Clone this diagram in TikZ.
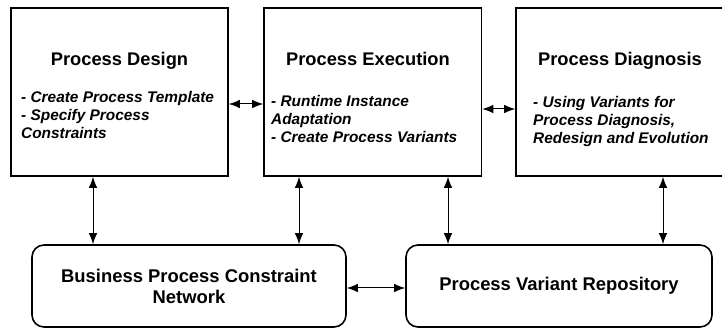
\documentclass[tikz,border=0pt]{standalone}
\usepackage{fontspec}
\setmainfont{Liberation Sans}
\usepackage{tikz}
\usetikzlibrary{arrows.meta}

\tikzset{
    procbox/.style={draw, line width=1.6pt, minimum height=168pt, inner sep=0pt},
    repbox/.style={draw, line width=1.6pt, rounded corners=12pt, minimum height=82pt,
        align=center, font=\fontsize{18.4}{21}\selectfont\bfseries},
    boxtitle/.style={anchor=base, inner sep=0pt, font=\fontsize{18.3}{21}\selectfont\bfseries},
    boxbody/.style={anchor=base west, inner sep=0pt, align=left,
        font=\fontsize{15.4}{18}\selectfont\bfseries\itshape},
    link/.style={<->, line width=1pt}
}

\begin{document}
\begin{tikzpicture}[x=1pt, y=-1pt, >={Latex[length=11pt,width=8.5pt]}]
    \useasboundingbox (0,0) rectangle (722,328);
    % the three phases
    \node[procbox, minimum width=217pt] (design) at (119.5,92) {};
    \node[procbox, minimum width=217.5pt] (execution) at (372.75,92) {};
    \node[procbox, minimum width=208pt] (diagnosis) at (620,92) {};
    \node[boxtitle] (designtitle) at (119.5,66) {Process Design};
    \node[boxtitle] (executiontitle) at (368,66) {Process Execution};
    \node[boxtitle] (diagnosistitle) at (620,66) {Process Diagnosis};
    % base of a body is its last line
    \node[boxbody] (designbody) at (21,139) {- Create Process Template\\- Specify Process\\Constraints};
    \node[boxbody] (executionbody) at (271,142.5) {- Runtime Instance\\Adaptation\\- Create Process Variants};
    \node[boxbody] (diagnosisbody) at (533,144) {- Using Variants for\\Process Diagnosis,\\Redesign and Evolution};
    % the two stores
    \node[repbox, minimum width=314pt] (network) at (189,286) {Business Process Constraint\\Network};
    \node[repbox, minimum width=306pt] (repository) at (559,286) {Process Variant Repository};
    % connectors
    \draw[link] ([yshift=-12pt]design.east) -- ([yshift=-12pt]design.east -| execution.west);
    \draw[link] ([yshift=-17pt]execution.east) -- ([yshift=-17pt]execution.east -| diagnosis.west);
    \draw[link] ([yshift=-2pt]network.east) -- ([yshift=-2pt]network.east -| repository.west);
    \draw[link] ([xshift=-26.5pt]design.south) -- ([xshift=-26.5pt]design.south |- network.north);
    \draw[link] ([xshift=-73.75pt]execution.south) -- ([xshift=-73.75pt]execution.south |- network.north);
    \draw[link] ([xshift=75.25pt]execution.south) -- ([xshift=75.25pt]execution.south |- repository.north);
    \draw[link] ([xshift=43pt]diagnosis.south) -- ([xshift=43pt]diagnosis.south |- repository.north);
\end{tikzpicture}
\end{document}
